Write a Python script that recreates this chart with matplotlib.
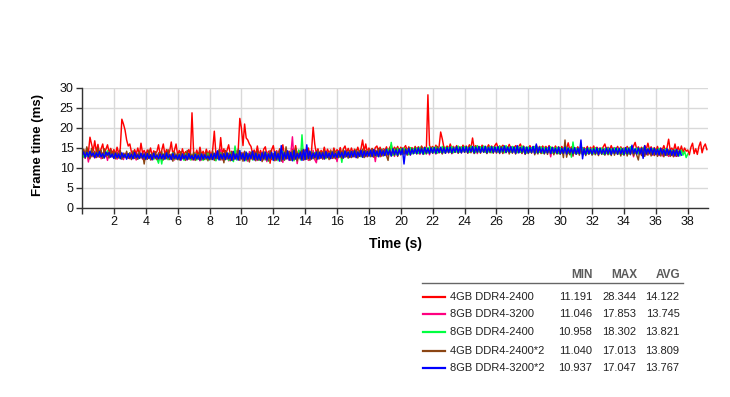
import matplotlib
matplotlib.use("Agg")
import matplotlib.pyplot as plt
import numpy as np

plt.rcParams['font.family'] = ['Liberation Sans', 'DejaVu Sans']

# ---------------- data ----------------
series_names = ["4GB DDR4-2400", "8GB DDR4-3200", "8GB DDR4-2400",
                "4GB DDR4-2400*2", "8GB DDR4-3200*2"]
series_colors = ["#ff0000", "#ff0080", "#00ff40", "#8b4513", "#0000ff"]
stat_min = ["11.191", "11.046", "10.958", "11.040", "10.937"]
stat_max = ["28.344", "17.853", "18.302", "17.013", "17.047"]
stat_avg = ["14.122", "13.745", "13.821", "13.809", "13.767"]
sample_step = 0.1  # seconds between samples

red = [
    13.4, 14.6, 13.2, 15.0, 13.8, 17.7, 16.0, 14.2, 16.8, 14.0,
    15.9, 13.6, 14.8, 16.0, 13.5, 14.7, 15.8, 13.9, 14.9, 13.7,
    14.6, 13.4, 15.2, 13.6, 14.8, 22.2, 21.0, 19.5, 17.0, 15.5,
    16.0, 14.0, 13.3, 14.6, 13.5, 15.0, 13.2, 16.2, 13.7, 14.4,
    13.1, 14.5, 13.4, 15.0, 13.0, 14.3, 13.6, 14.1, 15.8, 13.2,
    14.4, 16.0, 13.3, 14.6, 13.1, 14.2, 16.5, 13.4, 14.5, 16.0,
    13.2, 14.4, 13.0, 14.8, 13.3, 14.1, 13.5, 14.6, 13.1, 23.8,
    14.0, 13.2, 14.5, 13.0, 15.2, 13.3, 14.2, 13.1, 14.7, 13.4,
    14.3, 13.0, 14.6, 19.2, 13.5, 14.1, 13.2, 17.6, 13.4, 14.8,
    13.1, 14.5, 15.8, 13.3, 14.2, 13.0, 15.0, 13.5, 14.4, 22.4,
    20.0, 15.6, 21.0, 17.5, 17.0, 16.0, 15.4, 13.6, 14.5, 13.3,
    15.5, 13.2, 14.4, 13.0, 14.7, 15.3, 13.1, 14.2, 11.2, 14.6,
    15.6, 13.3, 14.3, 13.0, 14.8, 13.4, 15.8, 13.1, 14.5, 13.6,
    14.2, 13.0, 14.7, 13.4, 15.6, 13.2, 14.4, 13.5, 14.9, 13.3,
    14.6, 13.4, 15.0, 13.2, 14.3, 20.2, 16.0, 13.6, 14.8, 13.5,
    14.4, 13.6, 15.2, 13.4, 14.7, 13.7, 14.5, 13.3, 15.0, 13.8,
    14.6, 13.7, 15.1, 13.5, 14.8, 15.5, 13.9, 14.9, 13.6, 15.0,
    13.8, 14.7, 13.6, 15.2, 13.9, 14.8, 17.0, 14.2, 16.0, 13.9,
    15.0, 14.0, 14.9, 13.8, 15.1, 15.5, 14.1, 15.2, 13.9, 14.8,
    14.2, 15.3, 14.0, 15.1, 15.8, 14.3, 15.2, 14.1, 15.4, 14.2,
    15.2, 14.4, 15.0, 15.6, 14.3, 15.3, 14.5, 15.1, 14.2, 15.4,
    14.6, 15.3, 14.4, 15.5, 14.7, 15.2, 14.5, 28.3, 15.6, 14.8,
    15.4, 14.6, 15.7, 14.8, 15.3, 19.0, 17.3, 15.2, 14.7, 15.5,
    14.8, 16.0, 14.9, 15.4, 14.7, 15.6, 14.9, 15.3, 14.8, 15.7,
    14.9, 15.5, 14.8, 15.8, 15.0, 17.5, 14.9, 15.6, 15.0, 15.4,
    14.8, 15.7, 15.0, 15.4, 14.9, 15.8, 15.1, 15.5, 14.8, 15.6,
    16.2, 15.0, 15.5, 14.9, 15.7, 15.1, 15.4, 14.8, 15.9, 15.0,
    15.3, 14.8, 15.6, 15.0, 15.4, 16.0, 14.9, 15.5, 14.7, 15.2,
    14.9, 15.6, 14.8, 15.3, 15.0, 15.7, 14.7, 15.4, 14.9, 15.5,
    14.8, 15.4, 14.7, 15.6, 14.9, 15.2, 14.6, 15.5, 14.8, 15.3,
    14.7, 15.4, 14.6, 15.2, 14.8, 16.3, 14.5, 15.3, 14.7, 15.1,
    14.6, 15.3, 14.4, 15.5, 14.7, 15.1, 14.5, 15.4, 14.3, 15.2,
    14.6, 15.5, 14.4, 15.2, 14.7, 15.0, 14.5, 15.3, 16.0, 14.6,
    15.2, 14.5, 15.6, 14.4, 15.1, 14.6, 15.4, 14.3, 15.3, 14.7,
    15.0, 14.5, 15.4, 14.6, 15.2, 14.4, 15.5, 16.4, 14.6, 15.3,
    14.5, 15.2, 14.4, 15.6, 14.7, 16.2, 14.5, 15.3, 14.4, 15.1,
    14.3, 15.4, 14.2, 15.0, 14.5, 15.6, 14.3, 15.1, 17.2, 14.4,
    15.0, 14.2, 16.0, 14.1, 15.3, 14.0, 15.5, 13.9, 15.0, 14.2,
    14.5, 13.3, 15.2, 16.2, 13.6, 14.8, 13.4, 15.4, 16.5, 13.8,
    15.3, 16.0, 14.6]

magenta = [
    12.6, 13.8, 12.4, 14.0, 11.5, 13.7, 12.8, 13.9, 12.5, 13.6,
    12.7, 14.1, 12.3, 13.8, 12.6, 13.5, 11.9, 13.9, 12.8, 13.4,
    12.4, 13.6, 12.2, 13.9, 12.5, 13.4, 12.1, 13.7, 12.6, 13.3,
    12.3, 13.8, 12.5, 13.2, 12.0, 13.6, 12.4, 13.5, 12.2, 13.9,
    12.1, 13.5, 12.4, 13.3, 12.0, 13.7, 12.3, 13.4, 11.8, 13.6,
    12.2, 13.4, 12.5, 13.8, 12.1, 13.3, 12.4, 13.6, 12.0, 13.5,
    12.1, 13.3, 11.9, 13.6, 12.3, 13.2, 12.0, 13.5, 12.2, 13.4,
    12.0, 13.5, 12.2, 13.1, 11.8, 13.4, 12.1, 13.6, 12.3, 13.2,
    12.1, 13.6, 12.3, 13.4, 11.9, 13.8, 12.2, 14.6, 12.0, 13.5,
    12.2, 13.7, 11.8, 14.0, 12.1, 13.5, 12.4, 14.2, 12.0, 13.6,
    12.3, 13.9, 12.0, 13.5, 11.7, 14.1, 12.2, 13.8, 12.1, 13.4,
    11.9, 13.7, 12.2, 14.0, 12.0, 13.6, 11.6, 13.9, 12.3, 13.5,
    12.1, 13.8, 11.9, 14.2, 12.3, 13.5, 11.4, 13.9, 12.2, 14.0,
    11.9, 13.6, 17.8, 12.1, 14.3, 11.1, 13.7, 12.4, 14.1, 12.0,
    12.3, 14.0, 11.9, 13.8, 12.2, 14.4, 12.1, 11.3, 13.7, 12.4,
    12.5, 13.9, 12.2, 14.1, 12.6, 13.7, 12.3, 14.0, 12.4, 13.8,
    11.6, 14.2, 12.7, 13.9, 12.5, 14.1, 12.8, 13.8, 12.6, 14.3,
    12.8, 14.2, 12.6, 14.0, 12.9, 14.4, 12.7, 14.1, 12.8, 14.3,
    13.0, 14.5, 12.8, 14.3, 11.6, 14.4, 13.1, 14.2, 12.9, 14.6,
    13.2, 14.5, 13.0, 14.7, 13.3, 14.4, 12.9, 14.6, 13.1, 14.8,
    13.3, 14.7, 13.5, 14.9, 13.4, 14.6, 13.2, 14.8, 13.6, 14.7,
    13.6, 14.9, 13.4, 15.0, 13.7, 14.8, 13.5, 15.1, 13.3, 14.9,
    13.7, 15.0, 13.5, 15.2, 13.8, 14.9, 13.6, 15.1, 13.7, 15.0,
    13.8, 15.1, 13.6, 15.3, 13.9, 15.0, 13.7, 15.2, 13.8, 15.1,
    13.9, 15.2, 13.7, 15.0, 14.0, 15.3, 13.8, 15.1, 13.6, 15.4,
    13.8, 15.1, 14.0, 15.3, 13.7, 15.2, 13.9, 15.0, 13.8, 15.3,
    13.7, 15.2, 13.9, 15.0, 13.6, 15.4, 13.8, 15.1, 13.9, 15.2,
    13.8, 15.0, 13.6, 15.3, 13.9, 15.1, 13.7, 15.2, 13.5, 15.0,
    13.7, 15.1, 13.8, 15.3, 13.6, 15.0, 13.9, 15.2, 13.7, 15.1,
    13.6, 15.0, 13.8, 15.2, 12.8, 14.9, 13.7, 15.1, 13.6, 15.0,
    13.5, 14.9, 13.7, 15.1, 13.4, 14.8, 13.6, 15.0, 12.9, 14.9,
    13.5, 14.8, 13.6, 15.0, 13.4, 14.9, 13.5, 14.7, 13.6, 14.9,
    13.4, 14.8, 13.5, 15.0, 13.3, 14.9, 13.6, 14.7, 13.4, 14.8,
    13.5, 14.9, 13.3, 15.1, 13.6, 14.8, 13.4, 14.9, 13.5, 14.7,
    13.3, 14.8, 13.5, 15.0, 13.4, 14.9, 12.8, 14.7, 13.5, 14.9,
    13.4, 14.8, 12.9, 15.0, 13.3, 14.7, 13.5, 14.9, 13.2, 14.8,
    13.3, 14.6, 13.1, 14.8, 13.0, 14.5, 13.2, 14.7, 12.9, 14.4,
    13.1, 14.3, 12.9, 14.5, 13.0]

green = [
    13.5, 12.7, 14.0, 12.9, 13.8, 12.6, 14.2, 13.0, 13.7, 12.8,
    14.1, 12.9, 13.6, 12.5, 13.9, 13.1, 14.3, 12.7, 13.5, 12.8,
    13.7, 12.4, 13.5, 12.6, 13.9, 12.3, 13.6, 12.7, 13.4, 12.5,
    13.8, 12.3, 13.6, 12.5, 13.3, 12.2, 13.9, 12.6, 13.5, 12.4,
    13.4, 12.2, 13.7, 12.4, 13.5, 12.1, 13.6, 12.3, 11.2, 13.3,
    11.0, 13.5, 12.3, 13.7, 12.1, 13.4, 12.5, 13.8, 12.2, 13.3,
    12.1, 13.5, 12.3, 13.2, 11.9, 13.6, 12.2, 13.4, 12.0, 13.3,
    12.2, 13.6, 12.0, 13.3, 12.3, 13.5, 11.9, 13.2, 12.1, 13.7,
    12.0, 13.4, 12.2, 13.6, 11.8, 13.5, 12.1, 13.8, 12.3, 13.3,
    12.1, 13.7, 11.9, 13.9, 12.2, 11.6, 15.5, 12.0, 13.8, 12.3,
    13.6, 12.1, 14.0, 11.8, 13.7, 12.3, 13.9, 12.0, 13.5, 12.2,
    13.8, 11.9, 13.6, 12.2, 14.1, 12.0, 13.7, 11.7, 13.9, 12.3,
    13.6, 12.0, 14.0, 11.8, 13.8, 12.2, 14.2, 11.9, 13.7, 12.4,
    13.9, 12.1, 14.3, 11.8, 13.8, 12.2, 14.5, 12.0, 18.3, 12.5,
    14.0, 12.2, 13.8, 12.5, 14.1, 12.3, 13.9, 12.6, 14.2, 12.4,
    13.9, 12.5, 14.0, 12.3, 13.8, 12.6, 14.2, 12.4, 13.9, 12.7,
    14.1, 12.6, 13.9, 11.4, 14.2, 12.8, 14.0, 12.5, 14.3, 12.7,
    14.1, 12.9, 14.4, 12.6, 14.2, 12.8, 14.5, 12.7, 14.3, 13.0,
    14.4, 12.8, 14.6, 13.1, 14.2, 12.9, 14.5, 13.2, 14.7, 13.0,
    14.6, 13.2, 14.8, 13.4, 16.4, 13.1, 14.7, 13.3, 14.9, 13.5,
    14.8, 13.4, 15.0, 13.6, 14.7, 13.3, 15.1, 13.5, 14.9, 13.7,
    15.0, 13.6, 15.2, 13.8, 14.9, 13.5, 15.1, 13.7, 15.3, 13.9,
    15.1, 13.8, 15.3, 13.7, 15.0, 13.9, 15.4, 13.8, 15.2, 14.0,
    15.2, 13.9, 15.4, 13.8, 15.1, 14.0, 15.5, 13.9, 15.3, 14.1,
    15.4, 14.0, 15.2, 13.9, 15.5, 14.1, 15.3, 13.8, 15.6, 14.0,
    15.3, 14.1, 15.5, 13.9, 15.2, 14.0, 15.4, 13.8, 15.3, 14.1,
    15.2, 13.9, 15.5, 14.0, 15.3, 13.8, 15.6, 14.1, 15.2, 13.9,
    15.4, 14.0, 15.1, 13.8, 15.3, 13.9, 15.5, 14.0, 15.2, 13.7,
    15.3, 13.9, 15.1, 14.0, 15.4, 13.8, 15.2, 13.9, 15.3, 13.7,
    15.2, 13.8, 15.0, 13.9, 15.3, 13.7, 15.1, 13.8, 15.2, 13.6,
    15.1, 13.7, 15.0, 13.8, 15.2, 13.6, 14.9, 12.7, 16.5, 13.7,
    15.0, 13.6, 14.9, 13.7, 15.1, 13.5, 14.8, 13.6, 15.0, 13.7,
    14.9, 13.5, 15.1, 13.6, 14.8, 13.7, 15.0, 13.4, 14.9, 13.6,
    15.0, 13.5, 14.8, 13.7, 15.1, 13.6, 14.9, 13.5, 15.0, 13.4,
    14.9, 13.6, 15.0, 13.5, 15.3, 13.7, 14.8, 13.6, 15.0, 13.5,
    14.9, 13.7, 15.1, 13.4, 14.8, 13.6, 15.0, 13.5, 14.9, 13.6,
    14.7, 13.4, 14.9, 13.3, 14.6, 13.5, 14.8, 13.2, 14.5, 13.4,
    14.4, 13.2, 14.6, 13.1, 14.3, 13.0, 14.5, 13.2, 14.2, 12.6,
    13.5]

brown = [
    13.0, 14.7, 12.5, 15.3, 13.2, 12.3, 14.9, 12.8, 14.2, 12.6,
    15.0, 12.7, 14.4, 12.4, 14.8, 12.9, 13.8, 12.5, 14.5, 12.8,
    14.1, 12.3, 13.9, 12.5, 14.4, 12.2, 13.7, 12.6, 14.2, 12.4,
    13.8, 12.1, 14.3, 12.4, 13.6, 12.2, 14.0, 12.5, 13.7, 11.0,
    13.9, 12.2, 14.5, 12.0, 13.6, 12.4, 14.1, 12.1, 13.8, 12.3,
    14.2, 12.0, 13.7, 12.3, 14.6, 12.1, 13.5, 11.7, 14.0, 12.2,
    13.6, 12.0, 14.1, 12.3, 13.5, 11.9, 14.4, 12.2, 13.7, 12.0,
    14.0, 11.9, 13.6, 12.2, 14.3, 12.0, 13.5, 12.1, 13.9, 11.8,
    13.7, 12.1, 14.2, 11.9, 13.6, 12.3, 14.6, 12.0, 13.8, 11.3,
    14.4, 12.2, 13.7, 11.8, 14.1, 12.0, 13.5, 12.3, 14.7, 11.9,
    13.8, 11.7, 14.2, 12.1, 13.6, 11.5, 14.0, 12.2, 13.9, 11.8,
    14.3, 12.0, 13.7, 11.6, 14.1, 12.2, 13.5, 11.9, 14.4, 12.1,
    13.6, 11.8, 14.0, 12.2, 14.6, 11.7, 13.8, 12.0, 15.3, 12.3,
    13.9, 11.9, 14.2, 12.1, 14.9, 11.8, 13.7, 12.3, 14.4, 12.0,
    13.8, 12.2, 14.3, 11.9, 14.0, 12.4, 13.7, 12.1, 14.2, 12.3,
    13.9, 12.2, 14.4, 12.5, 13.8, 12.1, 14.1, 12.4, 14.5, 12.3,
    14.0, 12.6, 14.3, 12.4, 14.6, 12.7, 14.1, 12.5, 14.4, 12.6,
    14.2, 12.8, 14.6, 12.5, 14.3, 12.9, 14.7, 12.6, 14.4, 12.8,
    14.5, 12.9, 14.8, 12.7, 14.4, 13.0, 14.9, 12.8, 14.6, 13.1,
    14.7, 13.1, 11.9, 14.9, 13.0, 14.6, 13.2, 15.0, 12.9, 14.8,
    13.3, 15.0, 13.5, 14.8, 13.2, 15.1, 13.4, 14.9, 13.6, 15.2,
    13.5, 15.0, 13.7, 15.3, 13.4, 15.1, 13.6, 14.9, 13.8, 15.2,
    13.7, 15.1, 13.6, 15.4, 13.8, 15.0, 13.5, 15.3, 13.7, 15.1,
    13.8, 15.2, 13.6, 15.0, 13.9, 15.4, 13.7, 15.1, 13.8, 15.3,
    13.9, 15.1, 13.7, 15.4, 13.8, 15.2, 13.6, 15.0, 13.9, 15.3,
    13.7, 15.2, 13.9, 15.0, 13.6, 15.3, 13.8, 15.1, 13.7, 15.2,
    13.8, 15.1, 13.6, 15.4, 13.7, 15.0, 13.9, 15.2, 13.5, 15.1,
    13.7, 15.3, 13.5, 15.0, 13.8, 15.2, 13.6, 14.9, 13.4, 15.1,
    13.6, 15.0, 13.7, 15.2, 13.3, 14.9, 13.5, 15.1, 13.6, 14.8,
    13.5, 15.0, 13.4, 14.8, 13.6, 15.1, 13.3, 14.9, 13.5, 14.7,
    13.4, 14.9, 12.6, 17.0, 12.7, 14.8, 13.3, 15.0, 13.2, 14.7,
    13.4, 14.8, 13.2, 14.9, 13.3, 14.7, 13.1, 14.9, 13.4, 14.6,
    13.2, 14.8, 13.3, 14.6, 13.1, 14.9, 13.4, 14.7, 13.2, 14.8,
    13.3, 14.7, 13.1, 14.9, 13.2, 14.6, 13.4, 14.8, 13.0, 14.7,
    13.2, 14.9, 13.0, 14.7, 13.3, 14.8, 13.1, 14.6, 13.2, 12.0,
    14.7, 13.1, 14.9, 12.9, 14.6, 13.2, 14.8, 13.0, 14.5, 13.1,
    14.6, 12.9, 14.4, 13.0, 14.7, 12.8, 14.3, 13.1, 14.5, 12.9,
    14.2, 12.8, 14.4, 12.9, 14.1]

blue = [
    13.0, 14.0, 12.7, 13.9, 12.8, 14.2, 13.1, 13.7, 12.6, 13.8,
    12.9, 14.1, 12.8, 13.6, 12.5, 14.0, 13.2, 13.9, 12.7, 13.5,
    12.4, 13.7, 12.6, 13.5, 12.3, 13.8, 12.7, 13.4, 12.2, 13.6,
    12.5, 13.4, 12.3, 13.9, 12.6, 13.3, 12.4, 13.7, 12.5, 13.5,
    12.2, 13.6, 12.4, 13.3, 12.1, 13.7, 12.5, 13.2, 12.3, 13.5,
    12.3, 13.4, 12.2, 13.8, 12.5, 13.3, 12.1, 13.6, 12.4, 13.2,
    12.2, 13.3, 12.0, 13.5, 12.3, 13.2, 12.1, 13.6, 12.4, 13.1,
    12.1, 13.4, 12.3, 13.2, 12.0, 13.5, 12.2, 13.3, 12.4, 13.0,
    12.2, 13.5, 12.1, 13.7, 12.4, 14.3, 12.0, 13.4, 12.3, 13.6,
    12.1, 13.8, 12.3, 13.4, 11.9, 14.1, 12.2, 13.5, 12.0, 14.4,
    12.3, 13.6, 11.8, 14.0, 12.2, 13.5, 12.4, 14.2, 12.0, 13.7,
    12.1, 13.4, 11.9, 13.8, 12.3, 14.0, 12.0, 13.5, 12.4, 13.9,
    11.9, 14.1, 12.2, 13.6, 11.7, 15.6, 12.1, 13.8, 12.3, 14.3,
    12.0, 13.9, 11.8, 14.4, 12.2, 13.6, 12.5, 14.0, 11.9, 14.6,
    12.1, 15.8, 12.4, 14.2, 12.3, 13.7, 12.6, 14.0, 12.2, 13.9,
    12.5, 13.8, 12.3, 14.1, 12.6, 13.7, 12.4, 14.0, 12.7, 13.6,
    12.6, 14.2, 12.8, 13.9, 12.5, 14.3, 12.9, 14.0, 12.7, 14.1,
    12.8, 14.3, 12.6, 14.0, 12.9, 14.4, 12.7, 14.2, 13.0, 14.1,
    13.0, 14.4, 12.9, 14.6, 13.1, 14.2, 12.8, 14.5, 13.2, 14.3,
    13.1, 14.7, 13.3, 14.4, 13.0, 14.8, 13.4, 14.5, 13.2, 14.6,
    13.4, 14.8, 11.0, 14.6, 13.5, 14.9, 13.3, 14.7, 13.6, 14.8,
    13.6, 15.0, 13.7, 14.8, 13.5, 15.1, 13.8, 14.9, 13.6, 15.0,
    13.8, 15.1, 13.7, 14.9, 13.9, 15.2, 13.8, 15.0, 13.7, 15.1,
    13.9, 15.2, 13.8, 15.0, 14.0, 15.3, 13.9, 15.1, 13.8, 15.2,
    14.0, 15.3, 13.9, 15.1, 14.1, 15.4, 13.8, 15.2, 14.0, 15.3,
    13.9, 15.2, 14.0, 15.4, 13.8, 15.1, 14.1, 15.3, 13.9, 15.2,
    14.0, 15.3, 13.8, 15.1, 14.1, 15.5, 13.9, 15.2, 14.0, 15.3,
    13.9, 15.2, 13.7, 15.6, 13.8, 15.1, 14.0, 15.3, 13.6, 15.2,
    13.8, 15.1, 13.9, 15.4, 13.7, 16.0, 13.8, 15.2, 13.9, 15.0,
    13.7, 15.0, 13.8, 15.3, 13.6, 15.1, 13.9, 14.9, 13.7, 15.2,
    13.6, 14.9, 13.7, 15.2, 13.5, 15.0, 13.8, 14.8, 13.6, 15.1,
    13.5, 14.9, 13.6, 17.0, 12.3, 14.8, 13.4, 15.0, 13.6, 14.7,
    13.5, 14.8, 13.7, 15.0, 13.4, 14.9, 13.6, 14.7, 13.5, 15.0,
    13.6, 14.9, 13.4, 14.8, 13.7, 15.0, 13.5, 14.9, 13.6, 14.8,
    13.4, 15.1, 13.6, 14.9, 13.5, 15.7, 13.7, 14.8, 13.5, 15.0,
    13.6, 14.9, 12.4, 15.6, 13.5, 14.8, 13.7, 15.0, 13.4, 14.9,
    13.4, 14.7, 13.3, 14.9, 13.5, 14.6, 13.2, 14.8, 13.4, 14.5,
    13.2, 14.4, 13.1, 14.6, 13.0, 14.3, 13.2]

series_values = [red, magenta, green, brown, blue]

x_ticks = list(range(0, 39, 2))
x_tick_labels = [""] + [str(v) for v in range(2, 39, 2)]
y_ticks = [0, 5, 10, 15, 20, 25, 30]

# ---------------- figure ----------------
W, H = 730, 397
fig = plt.figure(figsize=(W / 100, H / 100), dpi=100)
ax = fig.add_axes([82 / W, 1 - 208 / H, (708 - 82) / W, (208 - 88) / H])

for vals, col in zip(series_values, series_colors):
    t = np.arange(len(vals)) * sample_step
    ax.plot(t, vals, color=col, lw=1.05)

ax.set_xlim(0, 39.27)
ax.set_ylim(0, 30)
ax.set_xticks(x_ticks)
ax.set_xticklabels(x_tick_labels)
ax.set_yticks(y_ticks)
ax.grid(True, color="#d9d9d9", lw=1.0)
ax.set_axisbelow(True)
for s in ["top", "right"]:
    ax.spines[s].set_visible(False)
for s in ["left", "bottom"]:
    ax.spines[s].set_color("#333333")
    ax.spines[s].set_linewidth(1.0)
ax.tick_params(axis='both', length=4, width=1, color="#333333",
               labelsize=9, labelcolor="#111111", pad=2)

fig.text(37.5 / W, 1 - 145 / H, "Frame time (ms)", rotation=90,
         ha='center', va='center', fontsize=9.5, fontweight='bold')
fig.text(395 / W, 1 - 244 / H, "Time (s)", ha='center', va='center',
         fontsize=10, fontweight='bold')

# ---------------- legend table ----------------
def fx(px):
    return px / W

def fy(py):
    return 1 - py / H

hdr_y = 275
for txt, xr in zip(["MIN", "MAX", "AVG"], [593, 637, 680]):
    fig.text(fx(xr), fy(hdr_y), txt, ha='right', va='center',
             fontsize=8.5, fontweight='bold', color="#5a5a5a")
fig.add_artist(plt.Line2D([fx(422), fx(683)], [fy(283.3), fy(283.3)],
                          color="#666666", lw=1.0, transform=fig.transFigure))

row_y = [296.7, 314.3, 332.3, 350.7, 368.3]
for i, name in enumerate(series_names):
    y = row_y[i]
    fig.add_artist(plt.Line2D([fx(423), fx(445)], [fy(y), fy(y)],
                              color=series_colors[i], lw=1.6,
                              transform=fig.transFigure))
    fig.text(fx(450), fy(y), name, ha='left', va='center', fontsize=8,
             color="#222222")
    fig.text(fx(592), fy(y), stat_min[i], ha='right', va='center',
             fontsize=8, color="#222222")
    fig.text(fx(636), fy(y), stat_max[i], ha='right', va='center',
             fontsize=8, color="#222222")
    fig.text(fx(679.5), fy(y), stat_avg[i], ha='right', va='center',
             fontsize=8, color="#222222")

fig.savefig("out.png", dpi=100)
